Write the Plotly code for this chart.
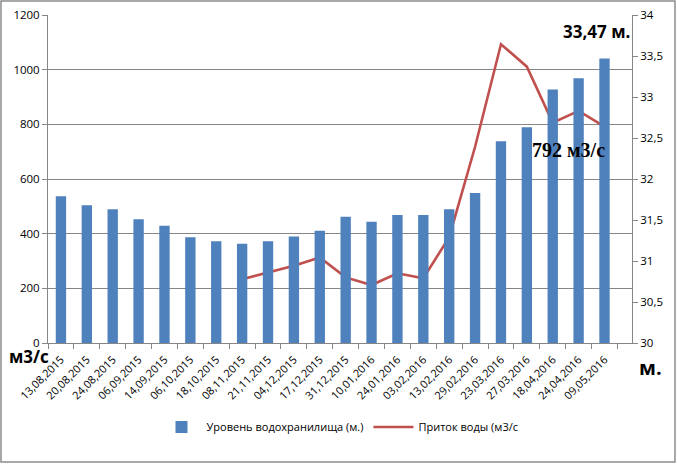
import plotly.graph_objects as go

dates = ["13,08,2015", "20,08,2015", "24,08,2015", "06,09,2015", "14,09,2015",
         "06,10,2015", "18,10,2015", "08,11,2015", "21,11,2015", "04,12,2015",
         "17,12,2015", "31,12,2015", "10,01,2016", "24,01,2016", "03,02,2016",
         "13,02,2016", "29,02,2016", "23,03,2016", "27,03,2016", "18,04,2016",
         "24,04,2016", "09,05,2016"]

level_m = [31.79, 31.68, 31.63, 31.51, 31.43, 31.29, 31.24, 31.21, 31.24, 31.30,
           31.37, 31.54, 31.48, 31.56, 31.56, 31.63, 31.83, 32.46, 32.63, 33.09,
           33.23, 33.47]

inflow = [None, None, None, None, None, None, None, 233, 257, 283,
          313, 240, 212, 255, 237, 387, 718, 1093, 1011, 806,
          849, 792]

font = "Open Sans"
grey = "#868686"

fig = go.Figure()
fig.add_trace(go.Bar(x=dates, y=level_m, name="Уровень водохранилища (м.)",
                     marker=dict(color="#4F81BD", line=dict(width=0)),
                     yaxis="y2", width=0.4))
fig.add_trace(go.Scatter(x=dates, y=inflow, name="Приток воды (м3/с",
                         mode="lines", line=dict(color="#C0504D", width=2.6),
                         yaxis="y", connectgaps=False))

fig.update_layout(
    width=677, height=464,
    margin=dict(l=48, r=45, t=15, b=121, autoexpand=False),
    paper_bgcolor="white", plot_bgcolor="white",
    font=dict(family=font, size=11, color="#000000"),
    showlegend=True,
    legend=dict(orientation="h", x=0.5, xanchor="center", y=-0.256, yanchor="middle",
                font=dict(size=11), traceorder="normal", itemwidth=40),
    xaxis=dict(type="category", tickangle=-45, ticks="outside", ticklen=5,
               tickcolor=grey, showline=True, linecolor=grey, tickson="boundaries",
               showgrid=False, tickfont=dict(size=11), automargin=False,
               ticklabelstandoff=5),
    yaxis=dict(range=[0, 1200], dtick=200, showgrid=True, gridcolor=grey, gridwidth=1,
               showline=True, linecolor=grey, ticks="outside", ticklen=5, tickcolor=grey,
               zeroline=False, tickfont=dict(size=11.5), automargin=False),
    yaxis2=dict(range=[30, 34], dtick=0.5, overlaying="y", side="right", showgrid=False,
                showline=True, linecolor=grey, ticks="outside", ticklen=5, tickcolor=grey,
                zeroline=False, tickformat=".1~f",
                tickfont=dict(size=11.5), automargin=False),
    separators=", ",
)

fig.add_annotation(x=dates[-1], y=level_m[-1], xref="x", yref="y2", text="<b>33,47 м.</b>",
                   showarrow=False, xshift=-8, yshift=27, font=dict(family="Open Sans", size=17),
                   xanchor="center", yanchor="middle")
fig.add_annotation(x=dates[-1], y=inflow[-1], xref="x", yref="y", text="<b>792 м3/с</b>",
                   showarrow=False, xshift=-36, yshift=-23,
                   font=dict(family="Liberation Serif", size=20), xanchor="center", yanchor="middle")
fig.add_annotation(x=-0.0325, y=-0.042, xref="paper", yref="paper", text="<b>м3/с</b>",
                   showarrow=False, font=dict(size=17), xanchor="center", yanchor="middle")
fig.add_annotation(x=1.031, y=-0.076, xref="paper", yref="paper", text="<b>м.</b>",
                   showarrow=False, font=dict(size=20), xanchor="center", yanchor="middle")

fig.add_shape(type="rect", xref="paper", yref="paper",
              x0=-0.0805, x1=1.0736, y0=-0.3628, y1=1.0427,
              line=dict(color="#8c8c8c", width=1.5), layer="below")

fig.write_html("out.html", post_script="document.body.style.margin='0px';",
               config={"displayModeBar": False})
